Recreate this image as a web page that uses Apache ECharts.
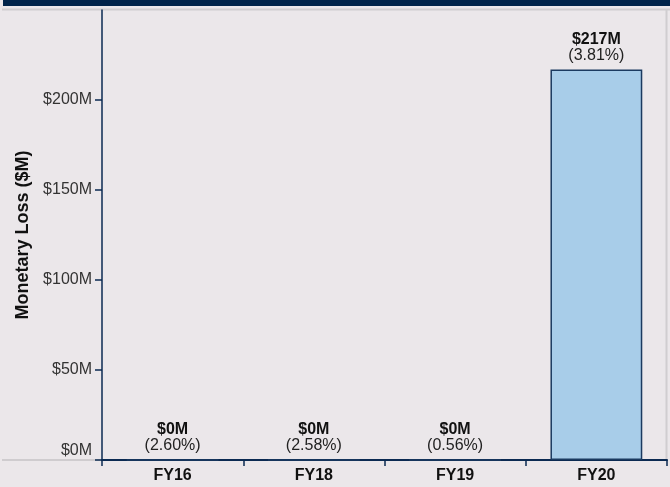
<!DOCTYPE html>
<html>
<head>
<meta charset="utf-8">
<script src="https://cdn.jsdelivr.net/npm/echarts@6/dist/echarts.min.js"></script>
<style>
  html, body { margin: 0; padding: 0; background: #ebe7ea; }
  #chart { width: 670px; height: 487px; }
</style>
</head>
<body>
<div id="chart"></div>
<script>
// data
var categories = ["FY16", "FY18", "FY19", "FY20"];
var lossValues = [0, 0, 0, 217];
var lossPercents = ["2.60%", "2.58%", "0.56%", "3.81%"];
var yTicks = [0, 50, 100, 150, 200];

var navy = "#0b2a52";

var chart = echarts.init(document.getElementById("chart"));

var option = {
	backgroundColor: "#ebe7ea",
	animation: false,
	textStyle: { fontFamily: "Arial, 'Liberation Sans', sans-serif" },
	graphic: [
		// top band
		{ type: "rect", shape: { x: 3, y: 0, width: 667, height: 6 }, style: { fill: "#00234a" }, silent: true },
		// gray frame lines
		{ type: "line", shape: { x1: 2, y1: 9.5, x2: 670, y2: 9.5 }, style: { stroke: "#d0cdd0", lineWidth: 2 }, silent: true },
		{ type: "line", shape: { x1: 666.5, y1: 9, x2: 666.5, y2: 460 }, style: { stroke: "#d0cdd0", lineWidth: 2 }, silent: true },
		{ type: "line", shape: { x1: 2, y1: 460, x2: 101, y2: 460 }, style: { stroke: "#cfcccf", lineWidth: 2 }, silent: true }
	],
	grid: { left: 102, right: 3, top: 10, bottom: 27 },
	xAxis: {
		type: "category",
		data: categories,
		axisLine: { lineStyle: { color: navy, width: 2 } },
		axisTick: { show: true, alignWithLabel: false, length: 6, lineStyle: { color: navy, width: 1.5 } },
		axisLabel: { color: "#111", fontWeight: "bold", fontSize: 16, margin: 8 }
	},
	yAxis: {
		type: "value",
		min: 0,
		max: 250,
		interval: 50,
		name: "Monetary Loss ($M)",
		nameLocation: "middle",
		nameGap: 64,
		nameTextStyle: { color: "#111", fontWeight: "bold", fontSize: 18 },
		splitLine: { show: false },
		axisLine: { show: true, lineStyle: { color: navy, width: 1.5 } },
		axisTick: { show: true, length: 7, lineStyle: { color: navy, width: 1.5 } },
		axisLabel: {
			color: "#333",
			fontSize: 16,
			margin: 10,
			showMaxLabel: false,
			formatter: function (v) {
				if (yTicks.indexOf(v) < 0) return "";
				if (v === 0) return "{z|$0M}";
				return "$" + v + "M";
			},
			rich: { z: { color: "#333", fontSize: 16, padding: [0, 0, 18, 0] } }
		}
	},
	series: [{
		type: "bar",
		data: lossValues,
		barWidth: "65%",
		itemStyle: { color: "#a8cde9", borderColor: "#1b3a60", borderWidth: 1.5 },
		label: {
			show: true,
			position: "top",
			distance: 6,
			formatter: function (p) {
				return "{b|$" + Math.round(p.value) + "M}\n{p|(" + lossPercents[p.dataIndex] + ")}";
			},
			rich: {
				b: { fontWeight: "bold", fontSize: 16, color: "#111", lineHeight: 16 },
				p: { fontSize: 16, color: "#222", lineHeight: 16 }
			}
		}
	}]
};

chart.setOption(option);
</script>
</body>
</html>
